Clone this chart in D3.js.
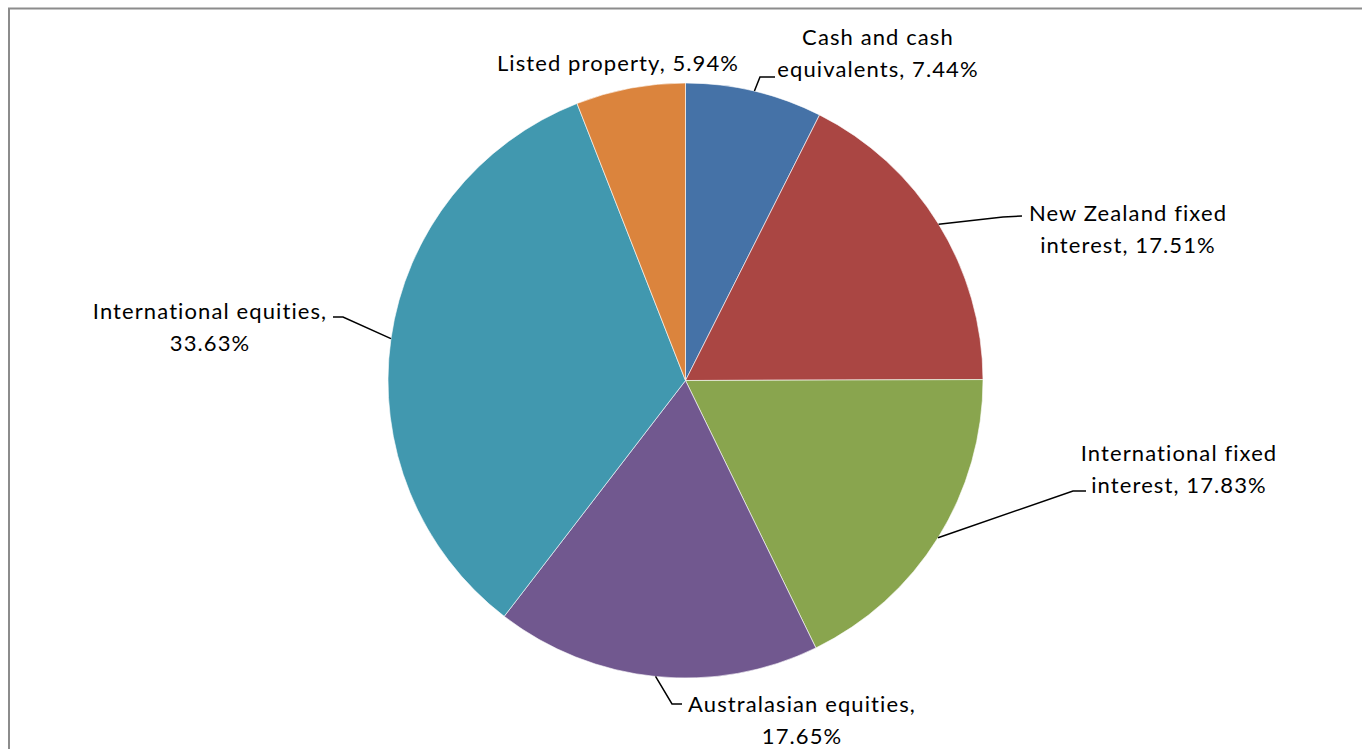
<html>
<head>
	<title>Asset allocation</title>
	<meta charset="utf-8">
	<script src="https://cdn.jsdelivr.net/npm/d3@7"></script>
	<style>
		body { margin: 0; background: #fff; }
		svg text { font-family: Lato, "Open Sans", sans-serif; font-size: 22px; letter-spacing: 1.1px; fill: #000; }
	</style>
</head>
<body>
	<svg id="chart" width="1362" height="749"></svg>

	<script type="text/javascript">
		// slices, clockwise from 12 o'clock
		var categories = ["Cash and cash equivalents", "New Zealand fixed interest", "International fixed interest",
		                  "Australasian equities", "International equities", "Listed property"]
		var values = [7.44, 17.51, 17.83, 17.65, 33.63, 5.94]
		var colors = ["#4572A7", "#AA4643", "#89A54E", "#71588F", "#4198AF", "#DB843D"]
		// label text split in two lines, like the original
		var labelLines = [["Cash and cash", "equivalents, 7.44%"],
		                  ["New Zealand fixed", "interest, 17.51%"],
		                  ["International fixed", "interest, 17.83%"],
		                  ["Australasian equities,", "17.65%"],
		                  ["International equities,", "33.63%"],
		                  ["Listed property, 5.94%"]]

		// layout only: label centre and the leader line elbow points
		var labelPos = [[878, 36], [1128, 212], [1179, 452], [802, 703], [210, 310], [618, 62]]
		var leaderBend = [[[760, 77], [775, 77]],
		                  [[1003, 217], [1022, 216]],
		                  [[1073, 491], [1086, 491]],
		                  [[672, 704], [682, 704]],
		                  [[343, 317], [333, 317]],
		                  null]

		var svg = d3.select("#chart")
		var cx = 685.5, cy = 380.5, r = 297.5

		// frame of the chart area
		svg.append("rect")
			.attr("x", 9).attr("y", 8.5)
			.attr("width", 1400).attr("height", 800)
			.attr("fill", "none")
			.attr("stroke", "#8c8c8c")
			.attr("stroke-width", 2)

		var pie = d3.pie().sort(null)(values)
		var arc = d3.arc().innerRadius(0).outerRadius(r)

		var g = svg.append("g").attr("transform", "translate(" + cx + "," + cy + ")")
		g.selectAll("path")
		  .data(pie)
		  .enter()
		  .append("path")
			.attr("d", arc)
			.attr("fill", (d, i) => colors[i])
			.attr("stroke", "#ffffff")
			.attr("stroke-width", 0.6)

		//leader lines start on the rim at the middle angle of the slice
		var line = d3.line()
		svg.selectAll("path.leader")
		  .data(pie.filter((d, i) => leaderBend[i]))
		  .enter()
		  .append("path")
			.attr("class", "leader")
			.attr("fill", "none")
			.attr("stroke", "#000")
			.attr("stroke-width", 1.5)
			.attr("d", d => {
				var a = (d.startAngle + d.endAngle) / 2
				var p0 = [cx + r * Math.sin(a), cy - r * Math.cos(a)]
				return line([p0].concat(leaderBend[d.index]))
			})

		var labels = svg.selectAll("text.label")
		  .data(pie)
		  .enter()
		  .append("text")
			.attr("class", "label")
			.attr("text-anchor", "middle")
			.attr("dominant-baseline", "central")
			.attr("x", (d, i) => labelPos[i][0])
			.attr("y", (d, i) => labelPos[i][1])

		labels.selectAll("tspan")
		  .data((d, i) => labelLines[i])
		  .enter()
		  .append("tspan")
			.attr("x", function() { return this.parentNode.getAttribute("x") })
			.attr("dy", (t, j) => j == 0 ? 0 : 32)
			.text(t => t)
	</script>
</body>
</html>
